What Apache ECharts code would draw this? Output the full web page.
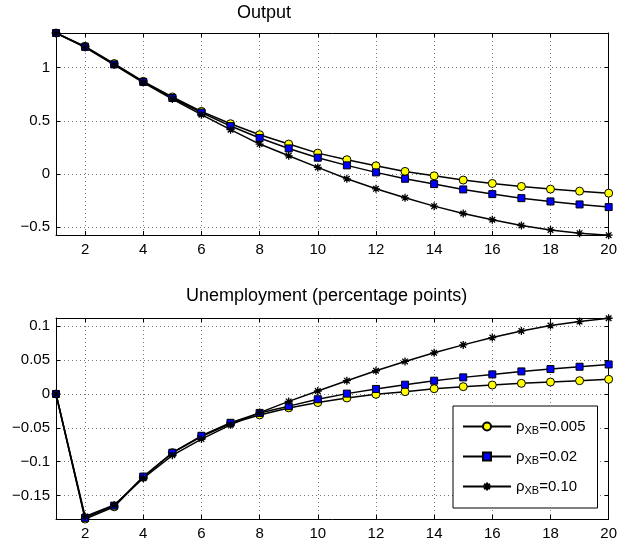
<!DOCTYPE html>
<html><head><meta charset="utf-8">
<script src="https://cdn.jsdelivr.net/npm/echarts@6/dist/echarts.min.js"></script>
<style>html,body{margin:0;padding:0;background:#fff}#c{width:620px;height:546px}</style>
</head><body><div id="c"></div>
<script>
const periods = [1,2,3,4,5,6,7,8,9,10,11,12,13,14,15,16,17,18,19,20];
const xTicks = [2,4,6,8,10,12,14,16,18,20];
const outputTicks = [-0.5,0,0.5,1];
const unempTicks = [-0.15,-0.1,-0.05,0,0.05,0.1];
const rhoValues = ['0.005','0.02','0.10'];
const titles = ['Output','Unemployment (percentage points)'];

const output005 = [1.325,1.200,1.038,0.871,0.724,0.589,0.473,0.370,0.282,0.197,0.135,0.078,0.025,-0.016,-0.056,-0.088,-0.116,-0.141,-0.160,-0.179];
const output002 = [1.325,1.195,1.030,0.865,0.715,0.578,0.451,0.339,0.241,0.154,0.082,0.016,-0.044,-0.094,-0.144,-0.188,-0.226,-0.257,-0.285,-0.310];
const output010 = [1.325,1.190,1.025,0.860,0.705,0.558,0.417,0.282,0.172,0.063,-0.044,-0.138,-0.223,-0.301,-0.370,-0.429,-0.483,-0.524,-0.555,-0.574];

const unemp005 = [0,-0.1848,-0.1667,-0.1230,-0.0868,-0.0630,-0.0436,-0.0310,-0.0206,-0.0127,-0.0059,-0.0005,0.0034,0.0078,0.0108,0.0132,0.0157,0.0176,0.0196,0.0216];
const unemp002 = [0,-0.1830,-0.1650,-0.1220,-0.0868,-0.0618,-0.0426,-0.0280,-0.0180,-0.0078,0.0005,0.0074,0.0137,0.0196,0.0245,0.0289,0.0333,0.0368,0.0402,0.0436];
const unemp010 = [0,-0.1810,-0.1640,-0.1245,-0.0907,-0.0667,-0.0456,-0.0275,-0.0110,0.0044,0.0196,0.0343,0.0480,0.0608,0.0725,0.0833,0.0931,0.1010,0.1069,0.1118];

const outputRange = [-0.572, 1.325];
const unempRange = [-0.1847, 0.1122];

const FONT = 'Liberation Sans, Arial, Helvetica, sans-serif';
const names = rhoValues.map(r => 'ρXB=' + r);
const pair = arr => periods.map((p, i) => [p, arr[i]]);
const fmtNum = v => String(v).replace('-', '\u2212');

const styles = [
  {symbol: 'circle', symbolSize: 8, itemStyle: {color: '#ffff00', borderColor: '#000', borderWidth: 1}},
  {symbol: 'rect', symbolSize: 7, itemStyle: {color: '#0000ff', borderColor: '#000', borderWidth: 1}},
  {symbol: 'path://M5,0L5,10M0,5L10,5M1.5,1.5L8.5,8.5M1.5,8.5L8.5,1.5', symbolSize: 8,
   itemStyle: {color: 'none', borderColor: '#000', borderWidth: 1.3}}
];

function mkX(grid, pos, labels) {
  return {
    type: 'value', gridIndex: grid, position: pos, min: 1, max: 20,
    axisLine: {show: true, onZero: false, lineStyle: {color: '#000', width: 1}},
    axisTick: {show: true, inside: true, length: 4, customValues: xTicks, lineStyle: {color: '#000'}},
    axisLabel: {show: labels, customValues: xTicks, color: '#000', fontSize: 15, fontFamily: FONT, margin: 7},
    splitLine: {show: labels, lineStyle: {color: '#777', type: [1, 3], width: 1}}
  };
}
function mkY(grid, pos, labels, range, ticks) {
  return {
    type: 'value', gridIndex: grid, position: pos, min: range[0], max: range[1],
    axisLine: {show: true, onZero: false, lineStyle: {color: '#000', width: 1}},
    axisTick: {show: true, inside: true, length: 4, customValues: ticks, lineStyle: {color: '#000'}},
    axisLabel: {show: labels, customValues: ticks, formatter: fmtNum, color: '#000', fontSize: 15, fontFamily: FONT, margin: 6},
    splitLine: {show: labels, lineStyle: {color: '#777', type: [1, 3], width: 1}}
  };
}

const outData = [output005, output002, output010];
const unData = [unemp005, unemp002, unemp010];
const series = [];
[outData, unData].forEach((set, g) => {
  set.forEach((arr, k) => {
    series.push(Object.assign({
      type: 'line', name: names[k], xAxisIndex: g * 2, yAxisIndex: g * 2,
      data: pair(arr), clip: false, animation: false, showAllSymbol: true,
      lineStyle: {color: '#000', width: 1.5}
    }, styles[k]));
  });
});

const chart = echarts.init(document.getElementById('c'));
chart.setOption({
  backgroundColor: '#fff',
  animation: false,
  textStyle: {fontFamily: FONT},
  title: [
    {text: titles[0], left: 237, top: 4, padding: 0, textStyle: {fontSize: 18, fontWeight: 'normal', color: '#000', fontFamily: FONT}},
    {text: titles[1], left: 186, top: 287, padding: 0, textStyle: {fontSize: 18, fontWeight: 'normal', color: '#000', fontFamily: FONT}}
  ],
  grid: [
    {left: 56, right: 7, top: 33, height: 202},
    {left: 56, right: 7, top: 318, height: 201}
  ],
  xAxis: [mkX(0, 'bottom', true), mkX(0, 'top', false), mkX(1, 'bottom', true), mkX(1, 'top', false)],
  yAxis: [mkY(0, 'left', true, outputRange, outputTicks), mkY(0, 'right', false, outputRange, outputTicks),
          mkY(1, 'left', true, unempRange, unempTicks), mkY(1, 'right', false, unempRange, unempTicks)],
  legend: {
    data: names, orient: 'vertical', left: 453, top: 406,
    backgroundColor: '#fff', borderColor: '#000', borderWidth: 1,
    padding: [13, 12, 12, 9], itemWidth: 48, itemHeight: 10, itemGap: 13,
    selectedMode: false,
    formatter: n => '{r|ρ}{s|XB}{r|=' + n.split('=')[1] + '}',
    textStyle: {
      rich: {
        r: {fontSize: 15, color: '#000', fontFamily: FONT},
        s: {fontSize: 11, color: '#000', fontFamily: FONT, padding: [8, 0, 0, 0]}
      }
    }
  },
  series: series
});
</script></body></html>
